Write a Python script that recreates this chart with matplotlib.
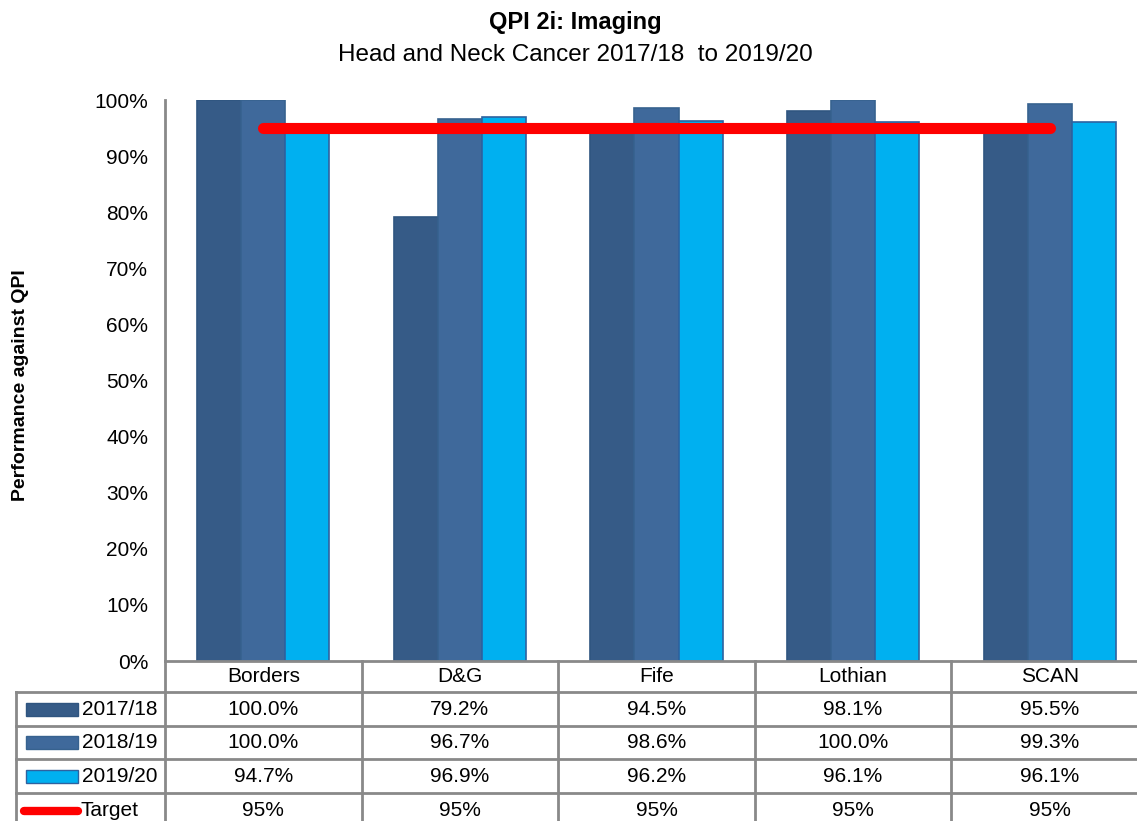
import matplotlib
matplotlib.use('Agg')
import matplotlib.pyplot as plt
import numpy as np
from matplotlib.transforms import blended_transform_factory
from matplotlib.patches import Rectangle
from matplotlib.lines import Line2D

plt.rcParams['font.family'] = ['Liberation Sans', 'DejaVu Sans']

# -------------------------
# DATA
# -------------------------
categories = ['Borders', 'D&G', 'Fife', 'Lothian', 'SCAN']
series_names = ['2017/18', '2018/19', '2019/20']
vals_1718 = [100.0, 79.2, 94.5, 98.1, 95.5]
vals_1819 = [100.0, 96.7, 98.6, 100.0, 99.3]
vals_1920 = [94.7, 96.9, 96.2, 96.1, 96.1]
target = [95, 95, 95, 95, 95]

colors = ['#365B87', '#3F699B', '#00B0F0']
edges = ['#2F5580', '#37628F', '#2E62A0']

W, H = 1137, 821
fig = plt.figure(figsize=(W / 100, H / 100), dpi=100)

# axes spans past the right edge, like the original export
ax = fig.add_axes([165 / W, 1 - 661 / H, 983 / W, 561 / H])
x = np.arange(len(categories))
bw = 0.224
for i, (vals, c, e) in enumerate(zip([vals_1718, vals_1819, vals_1920], colors, edges)):
    ax.bar(x + (i - 1) * bw, vals, bw, color=c, edgecolor=e, linewidth=1.2, zorder=2)
ax.plot(x, target, color='#FF0000', linewidth=8, solid_capstyle='round', zorder=3)

ax.set_xlim(-0.5, len(categories) - 0.5)
ax.set_ylim(0, 100)
ax.set_yticks(np.arange(0, 101, 10))
ax.set_yticklabels([f'{v}%' for v in range(0, 101, 10)], fontsize=15)
ax.tick_params(axis='y', length=0, pad=12)
ax.set_xticks([])
for s in ['top', 'right', 'bottom']:
    ax.spines[s].set_visible(False)
ax.spines['left'].set_color('#898989')
ax.spines['left'].set_linewidth(2)

# titles
fig.text(575 / W, 1 - 23 / H, 'QPI 2i: Imaging', ha='center', va='center',
         fontsize=17, fontweight='bold')
fig.text(575 / W, 1 - 55 / H, 'Head and Neck Cancer 2017/18  to 2019/20', ha='center',
         va='center', fontsize=17.5)
fig.text(21 / W, 1 - 385 / H, 'Performance against QPI', rotation=90, ha='center',
         va='center', fontsize=14, fontweight='bold')

# -------------------------
# DATA TABLE
# -------------------------
tr = blended_transform_factory(ax.transData, fig.transFigure)
fy = lambda p: 1 - p / H
grid = '#898989'
row_edges = [661, 692, 726, 759, 793, 828]
left_px = 16
fs = 15

# horizontal lines
fig.add_artist(Line2D([165 / W, 1], [fy(661)] * 2, color=grid, lw=2))
for yb in row_edges[1:-1]:
    fig.add_artist(Line2D([left_px / W, 1], [fy(yb)] * 2, color=grid, lw=2))
# vertical lines
fig.add_artist(Line2D([165 / W] * 2, [fy(661), 0], color=grid, lw=2))
fig.add_artist(Line2D([left_px / W] * 2, [fy(692), 0], color=grid, lw=2))
for k in range(1, len(categories) + 1):
    fig.add_artist(Line2D([k - 0.5] * 2, [fy(661), 0], color=grid, lw=2,
                          transform=tr, clip_on=False))

def mid(r):
    return fy((row_edges[r] + row_edges[r + 1]) / 2)

for i, cat in enumerate(categories):
    fig.text(i, mid(0), cat, transform=tr, ha='center', va='center', fontsize=fs)

rows = [vals_1718, vals_1819, vals_1920]
for r, (name, vals) in enumerate(zip(series_names, rows), start=1):
    yc = mid(r)
    fig.add_artist(Rectangle((26 / W, yc - 6.5 / H), 52 / W, 13 / H,
                             facecolor=colors[r - 1], edgecolor=edges[r - 1], lw=1))
    fig.text(82 / W, yc, name, ha='left', va='center', fontsize=fs)
    for i, v in enumerate(vals):
        fig.text(i, yc, f'{v:.1f}%', transform=tr, ha='center', va='center', fontsize=fs)

yc = mid(4)
fig.add_artist(Line2D([24 / W, 78 / W], [yc, yc], color='#FF0000', lw=6,
                      solid_capstyle='round'))
fig.text(80 / W, yc, 'Target', ha='left', va='center', fontsize=fs)
for i, v in enumerate(target):
    fig.text(i, yc, f'{v}%', transform=tr, ha='center', va='center', fontsize=fs)

fig.savefig('out.png', dpi=100)
